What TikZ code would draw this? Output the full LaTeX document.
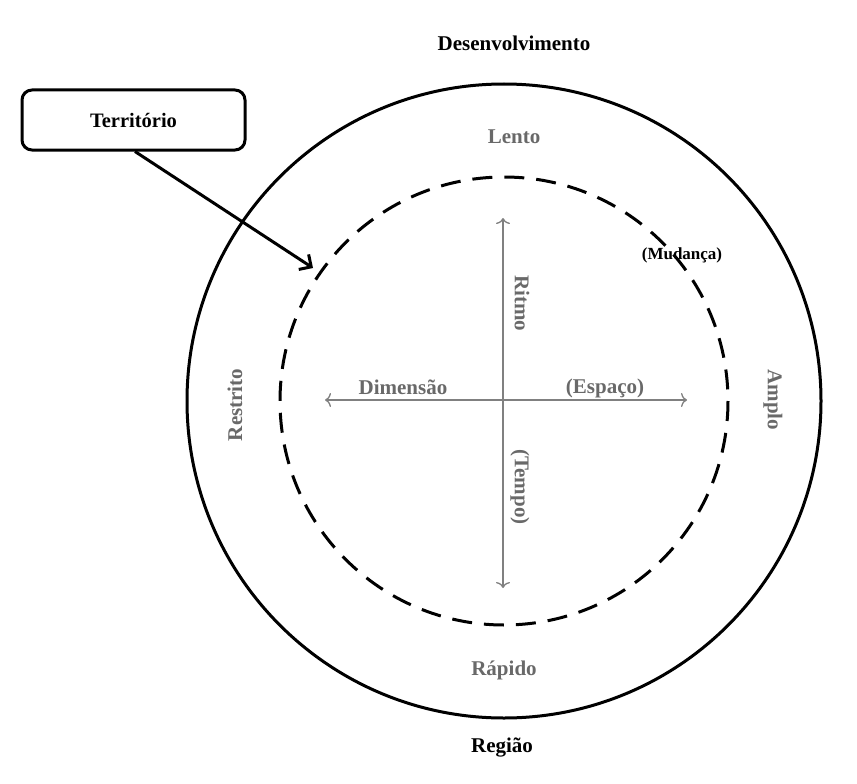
\documentclass[tikz,border=0pt]{standalone}
\usepackage{fontspec}
\setmainfont{Liberation Serif}
\usetikzlibrary{arrows.meta}
\definecolor{labgray}{RGB}{105,105,105}
\definecolor{axgray}{RGB}{128,128,128}
\tikzset{
  blk/.style={font=\fontsize{21}{24}\selectfont\bfseries, text=black, inner sep=0pt},
  gry/.style={font=\fontsize{21}{24}\selectfont\bfseries, text=labgray, inner sep=0pt},
  axis/.style={draw=axgray, line width=1.3pt, {To[length=6pt,width=14pt]}-{To[length=6pt,width=14pt]}},
  ring/.style={draw=black, line width=3pt},
  dashring/.style={draw=black, line width=3pt, dash pattern=on 20pt off 12pt},
  tbox/.style={draw=black, line width=3pt, rounded corners=10pt, minimum width=223pt, minimum height=60pt, inner sep=0pt, font=\fontsize{20.5}{24}\selectfont\bfseries},
  pointer/.style={draw=black, line width=3pt, -{Straight Barb[length=9pt,width=18pt,line width=3pt]}}
}
\begin{document}
\begin{tikzpicture}[x=1pt,y=-1pt]
\useasboundingbox (0,0) rectangle (857,784);
\coordinate (c) at (504,401);
\draw[ring] (c) circle[radius=317];
\draw[dashring] (c) circle[radius=224];
% axes
\coordinate (xl) at (325,400);
\coordinate (xr) at (687,400);
\coordinate (yt) at (503,218);
\coordinate (yb) at (503,588);
\draw[axis] (xl) -- (xr);
\draw[axis] (yt) -- (yb);
% labels
\node[blk] (dev) at (514,43) {Desenvolvimento};
\node[blk] (reg) at (502,747) {Região};
\node[gry] (lento) at (514,137) {Lento};
\node[gry] (rapido) at (504,670) {Rápido};
\node[gry, rotate=90] (restrito) at (235,405) {Restrito};
\node[gry, rotate=-90] (amplo) at (773,400) {Amplo};
\node[gry, rotate=-90] (ritmo) at (522,303) {Ritmo};
\node[gry, rotate=-90] (tempo) at (520,487) {(Tempo)};
\node[gry] (dim) at (403,387) {Dimensão};
\node[gry] (esp) at (605,388) {(Espaço)};
\node[blk, font=\fontsize{17}{20}\selectfont\bfseries] (mud) at (682,255) {(Mudança)};
% territorio
\node[tbox] (terr) at (133.5,120) {Território};
\coordinate (tip) at (313,268);
\draw[pointer] (terr.south -| 135,0) -- (tip);
\end{tikzpicture}
\end{document}
